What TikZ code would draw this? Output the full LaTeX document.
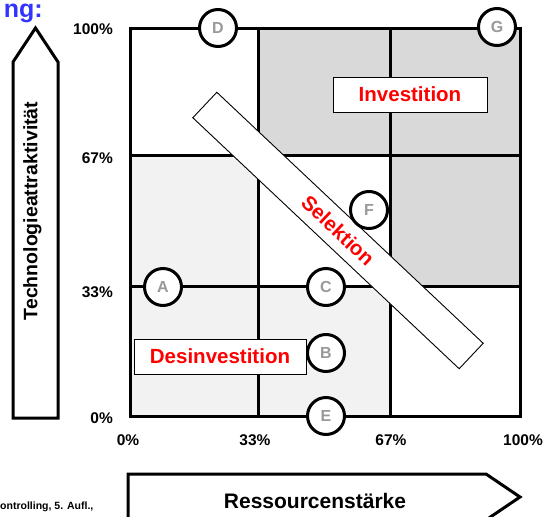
\documentclass[tikz,border=0pt]{standalone}
\usepackage{fontspec}
\setmainfont{Liberation Sans}
\usetikzlibrary{positioning}
\definecolor{darkcell}{HTML}{D9D9D9}
\definecolor{lightcell}{HTML}{F2F2F2}
\definecolor{lettergray}{HTML}{999999}
\definecolor{titleblue}{HTML}{3333FF}
\tikzset{
    grid line/.style={line width=3pt}, % dicke Linien der Matrix
    mark circle/.style={circle, draw, line width=3pt, fill=white, minimum size=37pt, inner sep=0pt,
        text=lettergray, font=\fontsize{16}{16}\selectfont\bfseries}, % Technologien A bis G
    label box/.style={draw, line width=0.9pt, fill=white, text=red, inner sep=0pt,
        minimum height=35pt, font=\fontsize{20.5}{20.5}\selectfont\bfseries}, % Normstrategien
    pct/.style={inner sep=0pt, font=\fontsize{15.5}{15.5}\selectfont\bfseries}, % Achsenwerte
    axis arrow/.style={draw, line width=3pt, line join=miter, fill=white} % Achsenpfeile
}

\begin{document}
\begin{tikzpicture}[x=1pt, y=-1pt]
    \def\xa{130} \def\xb{258} \def\xc{390} \def\xd{520}
    \def\ya{28} \def\yb{155} \def\yc{286} \def\yd{416}
    \useasboundingbox (0,0) rectangle (544,517);

    \node[anchor=base east, inner sep=0pt, text=titleblue, font=\fontsize{25}{25}\selectfont\bfseries] (title) at (43,17.5) {ng:};

    % Felder
    \fill[darkcell] (\xb,\ya) rectangle (\xd,\yb);
    \fill[darkcell] (\xc,\yb) rectangle (\xd,\yc);
    \fill[lightcell] (\xa,\yb) rectangle (\xb,\yc);
    \fill[lightcell] (\xa,\yc) rectangle (\xc,\yd);

    \draw[grid line] (\xa,\ya) rectangle (\xd,\yd);
    \foreach \x in {\xb,\xc} {\draw[grid line] (\x,\ya) -- (\x,\yd);}
    \foreach \y in {\yb,\yc} {\draw[grid line] (\xa,\y) -- (\xd,\y);}

    \foreach \lab/\yy in {100/29, 67/158, 33/292, 0/418} {\node[pct, anchor=east] (y\lab) at (113,\yy) {\lab\%};}
    \foreach \lab/\xx in {0/128, 33/255, 67/391, 100/523} {\node[pct] (x\lab) at (\xx,440) {\lab\%};}

    % Achsen
    \draw[axis arrow] (13,418) -- (13,62) -- (35.5,28) -- (58,62) -- (58,418) -- cycle;
    \node[rotate=90, inner sep=0pt, font=\fontsize{19.5}{19.5}\selectfont\bfseries] (ytitle) at (32.5,211) {Technologieattraktivität};
    \draw[axis arrow] (128,474) -- (486,474) -- (520,497) -- (486,520) -- (128,520) -- cycle;
    \node[inner sep=0pt, font=\fontsize{21}{21}\selectfont\bfseries] (xtitle) at (315,500.5) {Ressourcenstärke};

    \node[anchor=base west, inner sep=0pt, font=\fontsize{10.5}{10.5}\selectfont\bfseries] (quelle) at (0,509) {ontrolling, 5. Aufl.,};

    \node[draw, line width=0.9pt, fill=white, rotate=-43.3, minimum width=366pt, minimum height=35pt, inner sep=0pt,
        text=red, font=\fontsize{20.5}{20.5}\selectfont\bfseries] (selektion) at (338,230.5) {Selektion};

    \node[label box, minimum width=154pt] (invest) at (410,94.5) {Investition};
    \node[label box, minimum width=172pt] (desinvest) at (220,356.5) {Desinvestition};

    \foreach \nm/\xx/\yy in {D/218/28, G/497/27, F/369/210, A/163/287, C/326/287, B/326/353, E/326/416}
        {\node[mark circle] (\nm) at (\xx,\yy) {\nm};}
\end{tikzpicture}
\end{document}
